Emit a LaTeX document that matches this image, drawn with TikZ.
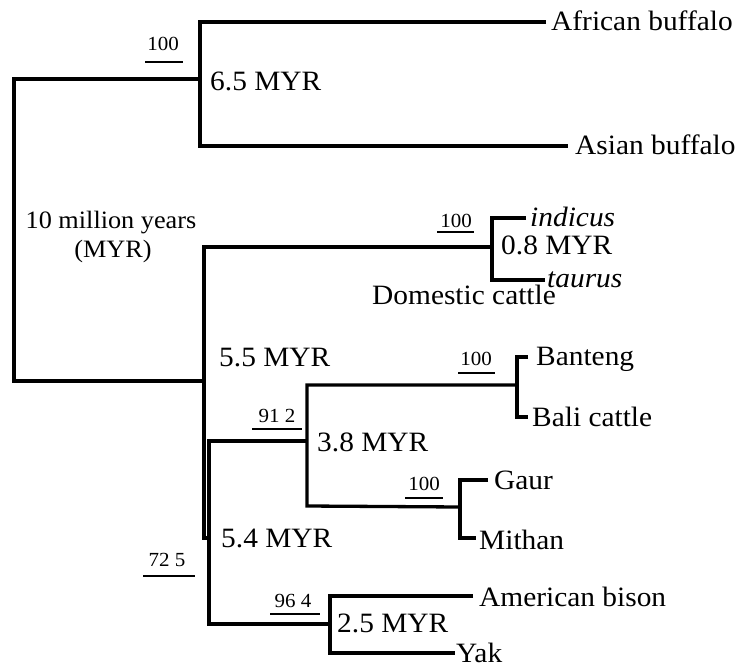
\documentclass[tikz,border=0pt]{standalone}
\usepackage{fontspec}
\setmainfont{Liberation Serif}[FakeStretch=1.05]
\begin{document}
\begin{tikzpicture}[x=1pt,y=-1pt,
  branch/.style={line width=3.3pt, line join=miter},
  uline/.style={line width=2pt},
  lab/.style={inner sep=0pt, anchor=base west, font=\fontsize{28}{30}\selectfont},
  clab/.style={inner sep=0pt, anchor=base, font=\fontsize{25}{28}\selectfont},
  boot/.style={inner sep=0pt, anchor=base, font=\fontsize{20}{22}\selectfont}]
\useasboundingbox (0,0) rectangle (740,667);
% junctions
\coordinate (Rt) at (14,79);  \coordinate (Rb) at (14,381);
\coordinate (B) at (200,79);  \coordinate (Bt) at (200,22);  \coordinate (Bb) at (200,146);
\coordinate (AF) at (546,22); \coordinate (AS) at (568,146);
\coordinate (C) at (204,381); \coordinate (Ct) at (204,247); \coordinate (Cb) at (204,538);
\coordinate (D) at (492,247); \coordinate (Dt) at (492,218); \coordinate (Db) at (492,280);
\coordinate (IN) at (526,218); \coordinate (TA) at (545,280);
\coordinate (E) at (209,538); \coordinate (Et) at (209,441); \coordinate (Eb) at (209,624);
\coordinate (F) at (307,441); \coordinate (Ft) at (307,385); \coordinate (Fb) at (307,506);
\coordinate (G) at (517,385); \coordinate (Gt) at (517,357); \coordinate (Gb) at (517,417);
\coordinate (BN) at (528,357); \coordinate (BL) at (528,417);
\coordinate (H) at (460,507); \coordinate (Ht) at (460,480); \coordinate (Hb) at (460,538);
\coordinate (GA) at (488,480); \coordinate (MI) at (476,538);
\coordinate (K) at (330,624); \coordinate (Kt) at (330,596); \coordinate (Kb) at (330,653);
\coordinate (AB) at (473,596); \coordinate (YK) at (455,653);
% tree
\draw[branch] (B) -- (Rt) -- (Rb) -- (C);
\draw[branch] (AF) -- (Bt) -- (Bb) -- (AS);
\draw[branch] (D) -- (Ct) -- (Cb) -- (E);
\draw[branch] (IN) -- (Dt) -- (Db) -- (TA);
\draw[branch] (F) -- (Et) -- (Eb) -- (K);
\draw[branch] (G) -- (Ft) -- (Fb) -- (H);
\draw[branch] (BN) -- (Gt) -- (Gb) -- (BL);
\draw[branch] (GA) -- (Ht) -- (Hb) -- (MI);
\draw[branch] (AB) -- (Kt) -- (Kb) -- (YK);
% leaf labels
\node[lab] (tAF) at (551,30) {African buffalo};
\node[lab] (tAS) at (575,154) {Asian buffalo};
\node[lab] (tIN) at (530,226) {\itshape indicus};
\node[lab] (tTA) at (547,287) {\itshape taurus};
\node[lab] (tDC) at (372,304) {Domestic cattle};
\node[lab] (tBN) at (536,365) {Banteng};
\node[lab] (tBL) at (532,426) {Bali cattle};
\node[lab] (tGA) at (494,489) {Gaur};
\node[lab] (tMI) at (479,549) {Mithan};
\node[lab] (tAB) at (479,606) {American bison};
\node[lab] (tYK) at (456,662) {Yak};
% age labels
\node[lab] (a65) at (210,90) {6.5 MYR};
\node[clab] (a10) at (111,228) {10 million years};
\node[clab] (a10b) at (113,257) {(MYR)};
\node[lab] (a08) at (501,254) {0.8 MYR};
\node[lab] (a55) at (219,366) {5.5 MYR};
\node[lab] (a38) at (317,451) {3.8 MYR};
\node[lab] (a54) at (221,547) {5.4 MYR};
\node[lab] (a25) at (337,632) {2.5 MYR};
% bootstrap values
\node[boot] (s1) at (163,50) {100};
\coordinate (s1a) at (145,62); \coordinate (s1b) at (183,62);
\draw[uline] (s1a) -- (s1b);
\node[boot] (s2) at (456,227) {100};
\coordinate (s2a) at (437,232); \coordinate (s2b) at (474,232);
\draw[uline] (s2a) -- (s2b);
\node[boot] (s3) at (476,365) {100};
\coordinate (s3a) at (458,373); \coordinate (s3b) at (495,373);
\draw[uline] (s3a) -- (s3b);
\node[boot] (s4) at (424,490) {100};
\coordinate (s4a) at (405,498); \coordinate (s4b) at (443,498);
\draw[uline] (s4a) -- (s4b);
\node[boot] (s5) at (277,422) {91 2};
\coordinate (s5a) at (252,429); \coordinate (s5b) at (302,429);
\draw[uline] (s5a) -- (s5b);
\node[boot] (s6) at (167,566) {72 5};
\coordinate (s6a) at (143,576); \coordinate (s6b) at (195,576);
\draw[uline] (s6a) -- (s6b);
\node[boot] (s7) at (293,607) {96 4};
\coordinate (s7a) at (270,614); \coordinate (s7b) at (320,614);
\draw[uline] (s7a) -- (s7b);
\end{tikzpicture}
\end{document}
